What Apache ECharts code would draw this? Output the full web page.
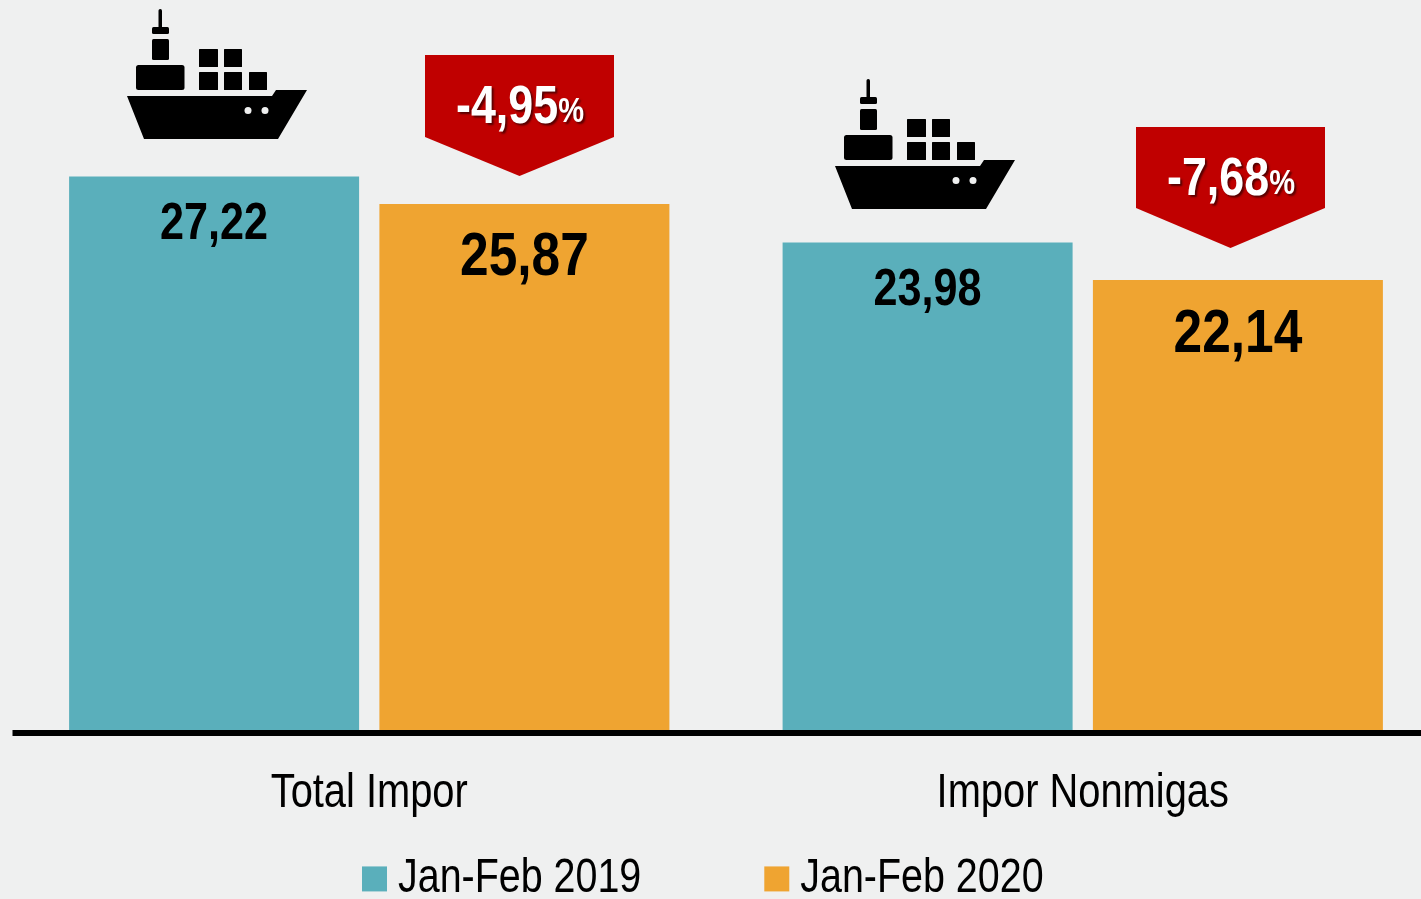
<!DOCTYPE html>
<html><head><meta charset="utf-8">
<style>html,body{margin:0;padding:0;background:#eff0f0}#c{width:1421px;height:899px}</style>
<script src="https://cdn.jsdelivr.net/npm/echarts@6/dist/echarts.min.js"></script></head>
<body><div id="c"></div>
<script>
const categories = ['Total Impor', 'Impor Nonmigas'];
const series2019 = [27.22, 23.98];
const series2020 = [25.87, 22.14];
const seriesNames = ['Jan-Feb 2019', 'Jan-Feb 2020'];
const changes = ['-4,95', '-7,68'];
const FONT = '"Liberation Sans",Arial,sans-serif';
const fmt = v => v.toFixed(2).replace('.', ',');
const BG = '#eff0f0';

// The reference uses a condensed face that is not installed: narrow all canvas text horizontally.
const NARROW = 0.83;
(function () {
  const P = CanvasRenderingContext2D.prototype;
  const fill = P.fillText, stroke = P.strokeText, measure = P.measureText;
  P.fillText = function (t, x, y, m) {
    this.save(); this.translate(x, y); this.scale(NARROW, 1);
    fill.call(this, t, 0, 0); this.restore();
  };
  P.strokeText = function (t, x, y, m) {
    this.save(); this.translate(x, y); this.scale(NARROW, 1);
    stroke.call(this, t, 0, 0); this.restore();
  };
  P.measureText = function (t) {
    const r = measure.call(this, t);
    return new Proxy(r, { get: (o, k) => k === 'width' ? o.width * NARROW : o[k] });
  };
})();

const shipRects = [[158.5,9,3.5,20,1.7],[152,27,17,7,1.5],[152,39,17,21,1.5],[136,65,48.5,25,2.5],
  [199,49,19,18,0.5],[224,49,18,18,0.5],[199,72,19,18,0.5],[224,72,18,18,0.5],[249,72,18,18,0.5]];
const hull = [[127,96],[272,96],[276,90],[307,90],[278,139],[144,139]];
function ship(dx, dy) {
  const els = shipRects.map(r => ({type:'rect', shape:{x:r[0]+dx, y:r[1]+dy, width:r[2], height:r[3], r:r[4]}, style:{fill:'#000'}}));
  els.push({type:'polygon', shape:{points:hull.map(p => [p[0]+dx, p[1]+dy])}, style:{fill:'#000'}});
  els.push({type:'circle', shape:{cx:248+dx, cy:110.5+dy, r:3.5}, style:{fill:BG}});
  els.push({type:'circle', shape:{cx:265+dx, cy:110.5+dy, r:3.5}, style:{fill:BG}});
  return els;
}
function badge(x, y, w, h, tip, txt) {
  return [
    {type:'polygon', shape:{points:[[x,y],[x+w,y],[x+w,y+h],[x+w/2,y+tip],[x,y+h]]}, style:{fill:'#c00000'}},
    {type:'text', x:x+w/2+0.5, y:y+53, style:{
      rich:{a:{font:'bold 54px '+FONT, fill:'#fff'}, b:{font:'bold 35px '+FONT, fill:'#fff', padding:[9,0,0,0]}},
      text:'{a|'+txt+'}{b|%}', align:'center', verticalAlign:'middle',
      textShadowColor:'rgba(60,0,0,0.8)', textShadowBlur:2, textShadowOffsetX:2, textShadowOffsetY:2
    }}
  ];
}
function item(v, size, dist) {
  return {value:v, label:{show:true, position:'insideTop', distance:dist, formatter:fmt(v), fontFamily:FONT, fontWeight:'bold', fontSize:size, color:'#000'}};
}
const chart = echarts.init(document.getElementById('c'), null, {renderer:'canvas'});
chart.setOption({
  animation:false,
  backgroundColor:BG,
  grid:{left:12.5, top:0, width:1427, height:730, outerBoundsMode:'none'},
  legend:{left:362, top:859, padding:0, itemWidth:25, itemHeight:25, itemGap:123, icon:'rect', data:seriesNames,
    textStyle:{fontFamily:FONT, fontSize:47.5, color:'#000', padding:[5,0,0,6]}},
  xAxis:{type:'category', data:categories, offset:3,
    axisLine:{onZero:false, lineStyle:{color:'#000', width:6, cap:'butt'}}, axisTick:{show:false},
    axisLabel:{fontFamily:FONT, fontSize:48, color:'#000', margin:41}},
  yAxis:{type:'value', min:0, max:730/20.33, show:false, splitLine:{show:false}},
  series:[
    {name:seriesNames[0], type:'bar', barWidth:290, barGap:'7%', itemStyle:{color:'#5aafbb'},
      data:[item(series2019[0],52,26), item(series2019[1],52,27)]},
    {name:seriesNames[1], type:'bar', barWidth:290, itemStyle:{color:'#efa431'},
      data:[item(series2020[0],62,28), item(series2020[1],62,29)]}
  ],
  graphic:[].concat(ship(0,0), ship(708,70),
    badge(425,55,189,82,121,changes[0]), badge(1136,127,189,81,121,changes[1]))
});
</script></body></html>
